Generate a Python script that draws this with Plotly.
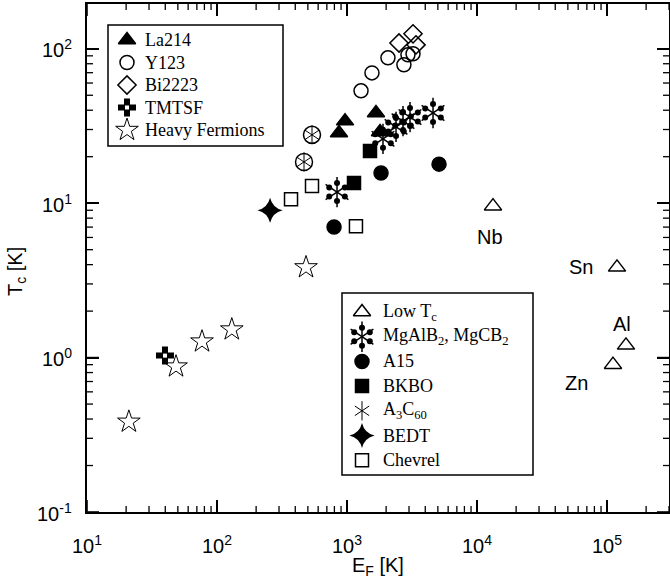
import numpy as np
import plotly.graph_objects as go

# ---------------- data (E_F [K], T_c [K]) ----------------
la214_ef = [868, 966, 1671, 1795]
la214_tc = [28.5, 34.0, 38.4, 28.9]

y123_ef = [1282, 1556, 2066, 2740, 2944, 3220]
y123_tc = [53.4, 69.8, 87.4, 78.7, 91.4, 92.8]

bi2223_ef = [2512, 3220, 3394]
bi2223_tc = [109, 125, 106]

tmtsf_ef = [39.8]
tmtsf_tc = [1.03]

hf_ef = [21.0, 48.4, 76.7, 130, 484]
hf_tc = [0.384, 0.875, 1.27, 1.52, 3.84]

lowtc_names = ["Nb", "Sn", "Al", "Zn"]
lowtc_ef = [13270, 119400, 140000, 111200]
lowtc_tc = [9.57, 3.84, 1.20, 0.90]

mgb_ef = [838, 1892, 2383, 2697, 3053, 4589]
mgb_tc = [11.8, 26.1, 31.2, 34.0, 36.1, 38.4]

a15_ef = [795, 1827, 5105]
a15_tc = [7.0, 15.7, 17.9]

bkbo_ef = [1132, 1503]
bkbo_tc = [13.5, 21.8]

a3c60_ef = [467, 538]
a3c60_tc = [18.5, 27.7]

bedt_ef = [256]
bedt_tc = [9.0]

chev_ef = [371, 538, 1172]
chev_tc = [10.6, 12.9, 7.1]

x_ticks = [1e1, 1e2, 1e3, 1e4, 1e5]
x_ticktext = ["10<sup>1</sup>", "10<sup>2</sup>", "10<sup>3</sup>", "10<sup>4</sup>", "10<sup>5</sup>"]
y_ticks = [1e-1, 1e0, 1e1, 1e2]
y_ticktext = ["10<sup>-1</sup>", "10<sup>0</sup>", "10<sup>1</sup>", "10<sup>2</sup>"]

legend1_names = ["La214", "Y123", "Bi2223", "TMTSF", "Heavy Fermions"]
legend2_names = ["Low T<sub>c</sub>", "MgAlB<sub>2</sub>, MgCB<sub>2</sub>", "A15", "BKBO",
                 "A<sub>3</sub>C<sub>60</sub>", "BEDT", "Chevrel"]

# ---------------- layout geometry ----------------
W, H = 670, 583
ML, MR, MT, MB = 87, 1, 4, 71
XR = [1, 5.477]
YR = [-1, 2.29]
PW = W - ML - MR
PH = H - MT - MB
px_dec_x = PW / (XR[1] - XR[0])
px_dec_y = PH / (YR[1] - YR[0])
X0, X1 = ML, W - MR
Y0, Y1 = H - MB, MT


def xpix(v):
    return ML + (np.log10(v) - XR[0]) * px_dec_x


def ypix(v):
    return (H - MB) - (np.log10(v) - YR[0]) * px_dec_y


def xpaper(px):
    return (px - ML) / PW


def ypaper(py):
    return (H - MB - py) / PH


BLACK = "black"
TICKFONT = dict(family="Liberation Sans", size=20, color=BLACK)
fig = go.Figure()


def add(x, y, symbol, size, color=BLACK, lw=1.5, axes=("x", "y")):
    fig.add_trace(go.Scatter(
        x=x, y=y, mode="markers", showlegend=False, xaxis=axes[0], yaxis=axes[1],
        marker=dict(symbol=symbol, size=size, color=color,
                    line=dict(color=BLACK, width=lw)),
        hoverinfo="skip"))


ANG = np.deg2rad([90, 30, -30, -90, 150, 210])


def mg_symbol(xs, ys, axes, log_axes):
    add(xs, ys, "y-up-open", 19, lw=1.5, axes=axes)
    add(xs, ys, "y-down-open", 19, lw=1.5, axes=axes)
    r = 9.0
    bx, by = [], []
    for xe, yt in zip(xs, ys):
        for a in ANG:
            if log_axes:
                bx.append(xe * 10 ** (r * np.cos(a) / px_dec_x))
                by.append(yt * 10 ** (r * np.sin(a) / px_dec_y))
            else:
                bx.append(xe + r * np.cos(a))
                by.append(yt - r * np.sin(a))
    add(bx, by, "circle", 6, lw=0, axes=axes)


def draw_series(key, xs, ys, axes=("x", "y"), log_axes=True, legend=False):
    if key == "La214":
        add(xs, ys, "triangle-up", 15, axes=axes)
    elif key == "Y123":
        add(xs, ys, "circle-open", 14, axes=axes)
    elif key == "Bi2223":
        add(xs, ys, "diamond-open", 14, axes=axes)
    elif key == "TMTSF":
        add(xs, ys, "cross", 15, lw=0, axes=axes)
        add(xs, ys, "square", 4, color="white", lw=0, axes=axes)
    elif key == "HF":
        add(xs, ys, "star-open", 17, lw=1, axes=axes)
    elif key == "LowTc":
        add(xs, ys, "triangle-up-open", 15, axes=axes)
    elif key == "Mg":
        mg_symbol(xs, ys, axes, log_axes)
    elif key == "A15":
        add(xs, ys, "circle", 14, axes=axes)
    elif key == "BKBO":
        add(xs, ys, "square", 13, axes=axes)
    elif key == "A3C60":
        if not legend:
            add(xs, ys, "circle-open", 17, lw=1.5, axes=axes)
        add(xs, ys, "y-up-open", 12, lw=1, axes=axes)
        add(xs, ys, "y-down-open", 12, lw=1, axes=axes)
    elif key == "BEDT":
        add(xs, ys, "star-diamond", 18, lw=0, axes=axes)
    elif key == "Chevrel":
        add(xs, ys, "square-open", 13, axes=axes)


# data series
draw_series("La214", la214_ef, la214_tc)
draw_series("Y123", y123_ef, y123_tc)
draw_series("Bi2223", bi2223_ef, bi2223_tc)
draw_series("TMTSF", tmtsf_ef, tmtsf_tc)
draw_series("HF", hf_ef, hf_tc)
draw_series("LowTc", lowtc_ef, lowtc_tc)
draw_series("Chevrel", chev_ef, chev_tc)
draw_series("A15", a15_ef, a15_tc)
draw_series("BKBO", bkbo_ef, bkbo_tc)
draw_series("Mg", mgb_ef, mgb_tc)
draw_series("A3C60", a3c60_ef, a3c60_tc)
draw_series("BEDT", bedt_ef, bedt_tc)

# ---------------- labels for low-Tc elements ----------------
shifts = {"Nb": (-3, -31), "Sn": (-36, 0), "Al": (-4, 21), "Zn": (-36, -18)}
for nm, xe, yt in zip(lowtc_names, lowtc_ef, lowtc_tc):
    dx, dy = shifts[nm]
    fig.add_annotation(x=np.log10(xe), y=np.log10(yt), text=nm, showarrow=False,
                       xshift=dx, yshift=dy, font=TICKFONT)

# ---------------- manual legends (pixel-coordinate overlay axes) ----------------
leg_font = dict(family="Liberation Serif", size=18, color=BLACK)


def legend_box(names, keys, left, top, right, bottom, first_row, row_gap, sym_x, text_x):
    fig.add_shape(type="rect", xref="x2", yref="y2", x0=left, x1=right, y0=top, y1=bottom,
                  line=dict(color=BLACK, width=1.5), fillcolor="rgba(0,0,0,0)", layer="above")
    for i, (nm, key) in enumerate(zip(names, keys)):
        yy = first_row + i * row_gap
        draw_series(key, [sym_x], [yy], axes=("x2", "y2"), log_axes=False, legend=True)
        fig.add_annotation(x=text_x, y=yy, xref="x2", yref="y2", text=nm, showarrow=False,
                           xanchor="left", yanchor="middle", font=leg_font)


legend_box(legend1_names, ["La214", "Y123", "Bi2223", "TMTSF", "HF"],
           108, 25, 283, 146, 40, 22.5, 127, 143)
legend_box(legend2_names, ["LowTc", "Mg", "A15", "BKBO", "A3C60", "BEDT", "Chevrel"],
           342, 293, 533, 475, 312, 24.7, 362, 381)


# ---------------- ticks (inside, all four sides) drawn on the main log axes ----------------
def minor_vals(lo, hi):
    return [d * 10.0 ** e for e in range(lo, hi) for d in range(2, 10)]


def add_ticks(xvals, yvals, length, width):
    xmin, xmax = 10 ** XR[0], 10 ** XR[1]
    ymin, ymax = 10 ** YR[0], 10 ** YR[1]
    ylen_lo = 10 ** (YR[0] + length / px_dec_y)
    ylen_hi = 10 ** (YR[1] - length / px_dec_y)
    xlen_lo = 10 ** (XR[0] + length / px_dec_x)
    xlen_hi = 10 ** (XR[1] - length / px_dec_x)
    xs_in = [v for v in xvals if xmin * 0.999 <= v <= xmax * 1.001]
    ys_in = [v for v in yvals if ymin * 0.999 <= v <= ymax * 1.001]
    sides = [
        ([c for v in xs_in for c in (v, v, None)],
         [c for v in xs_in for c in (ymin, ylen_lo, None)]),
        ([c for v in xs_in for c in (v, v, None)],
         [c for v in xs_in for c in (ymax, ylen_hi, None)]),
        ([c for v in ys_in for c in (xmin, xlen_lo, None)],
         [c for v in ys_in for c in (v, v, None)]),
        ([c for v in ys_in for c in (xmax, xlen_hi, None)],
         [c for v in ys_in for c in (v, v, None)]),
    ]
    for sx, sy in sides:
        fig.add_trace(go.Scatter(x=sx, y=sy, mode="lines", xaxis="x", yaxis="y",
                                 line=dict(color=BLACK, width=width, simplify=False),
                                 connectgaps=False, cliponaxis=False,
                                 showlegend=False, hoverinfo="skip"))


add_ticks(x_ticks, y_ticks, 12, 1.6)
add_ticks(minor_vals(1, 6), minor_vals(-1, 3), 6, 1.3)

# tick labels (paper coordinates so they are not hidden outside the plot area)
for v, t in zip(x_ticks, x_ticktext):
    fig.add_annotation(x=xpaper(xpix(v)), y=ypaper(Y0 + 33), xref="paper", yref="paper",
                       text=t, showarrow=False, xanchor="center", yanchor="middle",
                       font=TICKFONT)
for v, t in zip(y_ticks, y_ticktext):
    fig.add_annotation(x=xpaper(X0 - 13), y=ypaper(ypix(v)), xref="paper", yref="paper",
                       text=t, showarrow=False, xanchor="right", yanchor="middle",
                       font=TICKFONT)

# axis titles
fig.add_annotation(x=0.5, y=ypaper(566), xref="paper", yref="paper",
                   text="E<sub>F</sub> [K]", showarrow=False,
                   xanchor="center", yanchor="middle", font=TICKFONT)
fig.add_annotation(x=xpaper(16), y=ypaper(272), xref="paper", yref="paper",
                   text="T<sub>c</sub> [K]", showarrow=False, textangle=-90,
                   xanchor="center", yanchor="middle", font=TICKFONT)

axis_common = dict(
    type="log", showline=True, linecolor=BLACK, linewidth=1.5, mirror="ticks",
    ticks="inside", ticklen=12, tickwidth=1.5, tickcolor=BLACK,
    tickmode="array", showticklabels=False, showgrid=False, zeroline=False,
    automargin=False,
)

fig.update_layout(
    template="none",
    xaxis=dict(range=XR, tickvals=x_ticks, **axis_common),
    yaxis=dict(range=YR, tickvals=y_ticks, **axis_common),
    xaxis2=dict(overlaying="x", range=[X0, X1], visible=False, fixedrange=True),
    yaxis2=dict(overlaying="y", range=[Y0, Y1], visible=False, fixedrange=True),
    width=W, height=H,
    margin=dict(l=ML, r=MR, t=MT, b=MB, autoexpand=False),
    plot_bgcolor="white", paper_bgcolor="white",
    showlegend=False,
)

fig.write_html("out.html", config={"displayModeBar": False},
               post_script="document.body.style.margin='0px';")
